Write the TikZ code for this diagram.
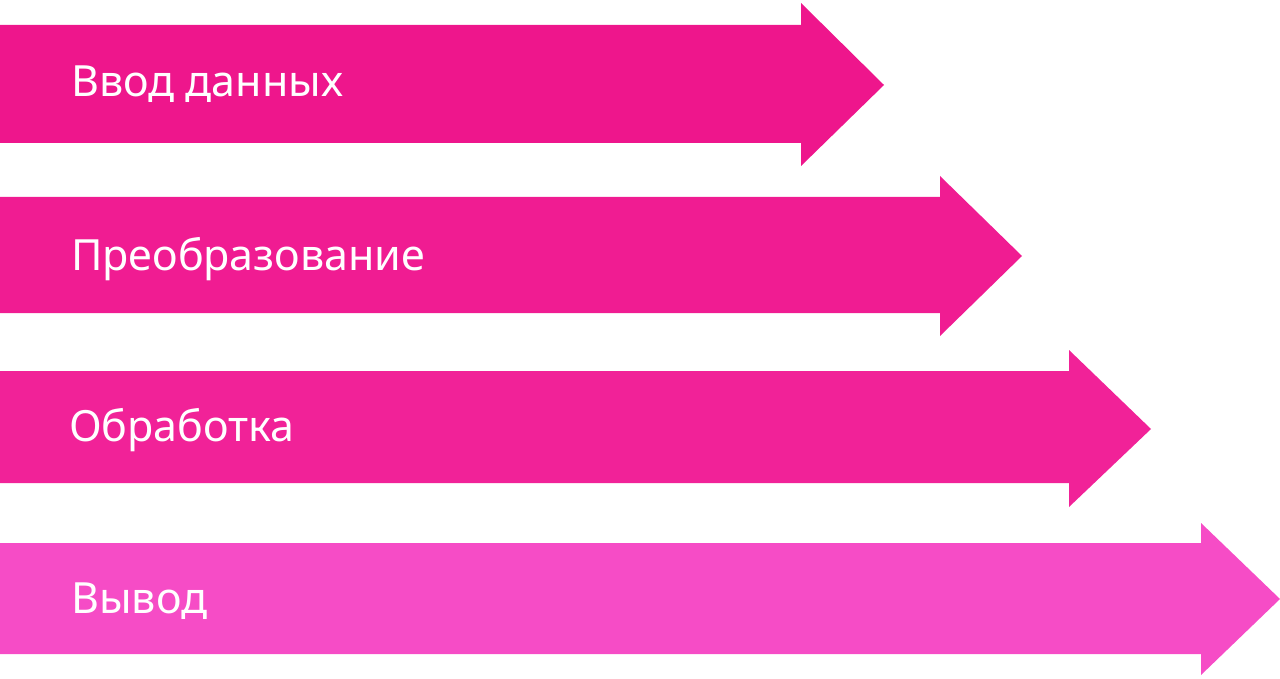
\documentclass[tikz,border=0pt]{standalone}
\usepackage{fontspec}
\setmainfont{Noto Sans}
\definecolor{pinkA}{RGB}{238,22,140}
\definecolor{pinkB}{RGB}{240,28,146}
\definecolor{pinkC}{RGB}{241,34,152}
\definecolor{pinkD}{RGB}{246,76,198}
\tikzset{
  lbl/.style={anchor=base west, text=white, inner sep=0pt, font=\fontsize{43}{50}\selectfont},
}
\begin{document}
\begin{tikzpicture}[x=1pt,y=-1pt]
\useasboundingbox (0,0) rectangle (1280,679);
% arrow 1
\fill[pinkA] (0,25) -- (801,25) -- (801,3) -- (884,85) -- (801,166) -- (801,143) -- (0,143) -- cycle;
% arrow 2
\fill[pinkB] (0,197) -- (940,197) -- (940,176) -- (1022,256) -- (940,336) -- (940,313) -- (0,313) -- cycle;
% arrow 3
\fill[pinkC] (0,371) -- (1069,371) -- (1069,350) -- (1151,429) -- (1069,507) -- (1069,483) -- (0,483) -- cycle;
% arrow 4
\fill[pinkD] (0,543) -- (1201,543) -- (1201,523) -- (1280,599) -- (1201,675) -- (1201,654) -- (0,654) -- cycle;
\node[lbl] (t1) at (71,97) {Ввод данных};
\node[lbl] (t2) at (71,270) {Преобразование};
\node[lbl] (t3) at (69,441) {Обработка};
\node[lbl] (t4) at (71,613) {Вывод};
\end{tikzpicture}
\end{document}
